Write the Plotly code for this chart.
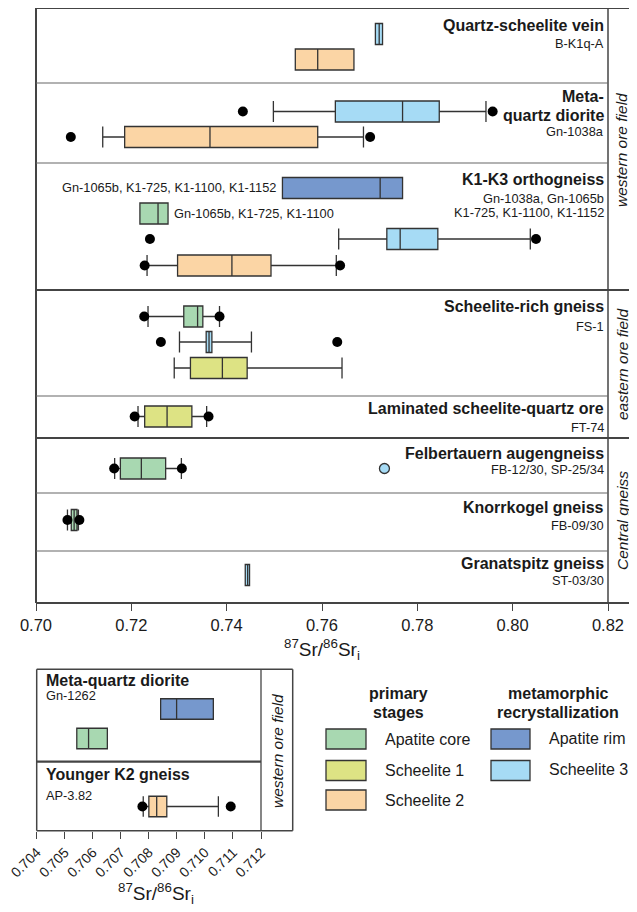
import plotly.graph_objects as go

# page body has an 8px margin: the figure is sized to the remaining viewport
OFF = 8
W, H = 637 - OFF, 912 - OFF
FONT = "Liberation Sans, Arial, sans-serif"
TXT = "#1a1a1a"
LINE = "#333333"

COLORS = {
    "Apatite core": "#a8d8b1",
    "Scheelite 1": "#dde384",
    "Scheelite 2": "#fbd5a5",
    "Apatite rim": "#7698cd",
    "Scheelite 3": "#a6dbf5",
}

# ---------------- main panel data (87Sr/86Sr_i) ----------------
box_series = ["Scheelite 3", "Scheelite 2",
              "Scheelite 3", "Scheelite 2",
              "Apatite rim", "Apatite core", "Scheelite 3", "Scheelite 2",
              "Apatite core", "Scheelite 3", "Scheelite 1",
              "Scheelite 1",
              "Apatite core",
              "Apatite core",
              "Scheelite 3"]
box_q1 = [0.7712, 0.7544, 0.7628, 0.7186, 0.7517, 0.7218, 0.7736, 0.7297,
          0.7310, 0.7357, 0.7324, 0.7228, 0.7177, 0.7074, 0.7439]
box_med = [0.7720, 0.7591, 0.7769, 0.7365, 0.7722, 0.7256, 0.7764, 0.7411,
           0.7339, 0.7363, 0.7391, 0.7275, 0.7221, 0.7080, 0.7444]
box_q3 = [0.7727, 0.7667, 0.7846, 0.7591, 0.7769, 0.7277, 0.7843, 0.7493,
          0.7350, 0.7369, 0.7443, 0.7327, 0.7272, 0.7086, 0.7448]
box_lo = [0.7712, 0.7544, 0.7498, 0.7140, 0.7517, 0.7218, 0.7635, 0.7233,
          0.7235, 0.7301, 0.7290, 0.7214, 0.7165, 0.7066, 0.7439]
box_hi = [0.7727, 0.7667, 0.7944, 0.7687, 0.7769, 0.7277, 0.8037, 0.7630,
          0.7385, 0.7452, 0.7642, 0.7358, 0.7305, 0.7089, 0.7448]
box_outliers = [[], [], [0.7434, 0.7958], [0.7073, 0.7701], [], [],
                [0.7239, 0.8049], [0.7228, 0.7638], [0.7227, 0.7385],
                [0.7262, 0.7632], [], [0.7207, 0.7362], [0.7164, 0.7306],
                [0.7066, 0.7091], []]
# row slots (layout positions, pixel rows of the main panel)
box_slot = [34, 59.5, 111.5, 137, 188, 213.5, 239, 265.5,
            316.5, 342, 368, 416.5, 468.5, 520, 575]

single_series = ["Scheelite 3"]
single_value = [0.7731]
single_slot = [468.5]

# ---------------- inset data ----------------
in_series = ["Apatite rim", "Apatite core", "Scheelite 2"]
in_q1 = [0.70842, 0.70543, 0.70800]
in_med = [0.70899, 0.70585, 0.70828]
in_q3 = [0.71030, 0.70652, 0.70864]
in_lo = [0.70842, 0.70543, 0.70780]
in_hi = [0.71030, 0.70652, 0.71048]
in_outliers = [[], [], [0.70777, 0.71092]]
in_slot = [709, 738.5, 806.5]

main_ticks = [0.70, 0.72, 0.74, 0.76, 0.78, 0.80, 0.82]
inset_ticks = [0.704, 0.705, 0.706, 0.707, 0.708, 0.709, 0.710, 0.711, 0.712]


def px(x):
    return (x - OFF) / W


def py(y):
    return 1 - (y - OFF) / H


fig = go.Figure()


def add_boxes(series, q1, med, q3, lo, hi, outl, slots, xa, ya, bw):
    for s, a, m, b, l, h, o, yv in zip(series, q1, med, q3, lo, hi, outl, slots):
        fig.add_trace(go.Box(
            orientation="h", y=[yv], q1=[a], median=[m], q3=[b],
            lowerfence=[l], upperfence=[h], width=bw, whiskerwidth=1,
            fillcolor=COLORS[s], line=dict(color=LINE, width=1.3),
            boxpoints=False, showlegend=False, xaxis=xa, yaxis=ya,
            hoverinfo="skip"))
        if o:
            fig.add_trace(go.Scatter(
                x=o, y=[yv] * len(o), mode="markers",
                marker=dict(color="black", size=10), showlegend=False,
                xaxis=xa, yaxis=ya, hoverinfo="skip"))


add_boxes(box_series, box_q1, box_med, box_q3, box_lo, box_hi, box_outliers,
          box_slot, "x", "y", 21)
for s, v, yv in zip(single_series, single_value, single_slot):
    fig.add_trace(go.Scatter(
        x=[v], y=[yv], mode="markers",
        marker=dict(color=COLORS[s], size=10, line=dict(color=LINE, width=1.3)),
        showlegend=False, hoverinfo="skip"))
add_boxes(in_series, in_q1, in_med, in_q3, in_lo, in_hi, in_outliers,
          in_slot, "x2", "y2", 20.5)

# ---------------- frame lines ----------------
shapes = []


def hline(y, x0, x1, w=1.2, c="#555555"):
    shapes.append(dict(type="line", xref="paper", yref="paper",
                       x0=px(x0), x1=px(x1), y0=py(y), y1=py(y),
                       line=dict(color=c, width=w)))


def vline(x, y0, y1, w=1.2, c="#555555"):
    shapes.append(dict(type="line", xref="paper", yref="paper",
                       x0=px(x), x1=px(x), y0=py(y0), y1=py(y1),
                       line=dict(color=c, width=w)))


# main panel frame
hline(8, 36, 637, 2, "#444")
hline(603, 36, 637, 2, "#444")
vline(36, 8, 603, 2, "#444")
vline(608, 8, 603, 1.5, "#444")
for yy in [83, 163, 396, 493, 551]:
    hline(yy, 36, 608, 1.2, "#666")
for yy in [290, 438]:
    hline(yy, 36, 637, 2.2, "#444")

# inset frame
hline(669.3, 36.7, 292.7, 1.5, "#444")
hline(830.7, 36.7, 292.7, 1.5, "#444")
vline(36.7, 669.3, 830.7, 1.5, "#444")
vline(261, 669.3, 830.7, 1.3, "#444")
vline(292.7, 669.3, 830.7, 1.5, "#444")
hline(761.7, 36.7, 261, 2.2, "#444")

# legend swatches
leg_left = ["Apatite core", "Scheelite 1", "Scheelite 2"]
leg_right = ["Apatite rim", "Scheelite 3"]
leg_rows = [739, 770.5, 800]
for name, yc in zip(leg_left, leg_rows):
    shapes.append(dict(type="rect", xref="paper", yref="paper",
                       x0=px(326), x1=px(366), y0=py(yc - 10), y1=py(yc + 10),
                       fillcolor=COLORS[name], line=dict(color=LINE, width=1.3)))
for name, yc in zip(leg_right, leg_rows):
    shapes.append(dict(type="rect", xref="paper", yref="paper",
                       x0=px(491), x1=px(530), y0=py(yc - 10), y1=py(yc + 10),
                       fillcolor=COLORS[name], line=dict(color=LINE, width=1.3)))

# ---------------- text ----------------
anns = []


def ann(x, y, text, size, xanchor="right", bold=False, italic=False, angle=0):
    t = text
    if bold:
        t = "<b>" + t + "</b>"
    if italic:
        t = "<i>" + t + "</i>"
    anns.append(dict(x=px(x), y=py(y), xref="paper", yref="paper", text=t,
                     showarrow=False, xanchor=xanchor, yanchor="middle",
                     textangle=angle, font=dict(size=size, color=TXT, family=FONT)))


RX = 606
TS, SS = 16, 12.8
ann(RX, 25, "Quartz-scheelite vein", TS, bold=True)
ann(RX, 44, "B-K1q-A", SS)
ann(RX, 96, "Meta-", TS, bold=True)
ann(RX, 115, "quartz diorite", TS, bold=True)
ann(RX, 132, "Gn-1038a", SS)
ann(RX, 180, "K1-K3 orthogneiss", TS, bold=True)
ann(RX, 198, "Gn-1038a, Gn-1065b", SS)
ann(RX, 212, "K1-725, K1-1100, K1-1152", SS)
ann(278, 188, "Gn-1065b, K1-725, K1-1100, K1-1152", SS)
ann(172, 214, "Gn-1065b, K1-725, K1-1100", SS, xanchor="left")
ann(RX, 306, "Scheelite-rich gneiss", TS, bold=True)
ann(RX, 326, "FS-1", SS)
ann(RX, 408, "Laminated scheelite-quartz ore", TS, bold=True)
ann(RX, 427, "FT-74", SS)
ann(RX, 453, "Felbertauern augengneiss", TS, bold=True)
ann(RX, 470, "FB-12/30, SP-25/34", SS)
ann(RX, 507, "Knorrkogel gneiss", TS, bold=True)
ann(RX, 525, "FB-09/30", SS)
ann(RX, 563, "Granatspitz gneiss", TS, bold=True)
ann(RX, 580, "ST-03/30", SS)

ann(622, 150, "western ore field", 15.5, xanchor="center", italic=True, angle=-90)
ann(622, 364, "eastern ore field", 15.5, xanchor="center", italic=True, angle=-90)
ann(622, 521, "Central gneiss", 15.5, xanchor="center", italic=True, angle=-90)

ann(44, 680, "Meta-quartz diorite", 16, xanchor="left", bold=True)
ann(44, 695, "Gn-1262", SS, xanchor="left")
ann(44, 774, "Younger K2 gneiss", 16, xanchor="left", bold=True)
ann(44, 795, "AP-3.82", SS, xanchor="left")
ann(277, 751, "western ore field", 15.5, xanchor="center", italic=True, angle=-90)

# axis titles
title_txt = "<sup>87</sup>Sr/<sup>86</sup>Sr<sub>i</sub>"
ann(322, 649, title_txt, 19, xanchor="center")
ann(156, 893, title_txt, 19, xanchor="center")

# legend text
ann(398, 693, "primary", 16, xanchor="center", bold=True)
ann(398, 712, "stages", 16, xanchor="center", bold=True)
ann(558, 693, "metamorphic", 16, xanchor="center", bold=True)
ann(558, 712, "recrystallization", 16, xanchor="center", bold=True)
for name, yc in zip(leg_left, leg_rows):
    ann(383, yc, name, 16, xanchor="left")
for name, yc in zip(leg_right, leg_rows):
    ann(547, yc - 1, name, 16, xanchor="left")

fig.update_layout(
    width=W, height=H, margin=dict(l=0, r=0, t=0, b=0, autoexpand=False),
    paper_bgcolor="white", plot_bgcolor="rgba(0,0,0,0)",
    boxmode="overlay", showlegend=False,
    font=dict(family=FONT, color=TXT),
    shapes=shapes, annotations=anns,
    xaxis=dict(domain=[px(36), px(608)], range=[0.70, 0.82],
               tickvals=main_ticks, ticktext=[f"{t:.2f}" for t in main_ticks],
               ticks="outside", ticklen=7, tickcolor="#444", tickwidth=1.2,
               showgrid=False, zeroline=False, showline=False, automargin=False,
               ticklabeloverflow="allow",
               tickfont=dict(size=16.5, color=TXT), anchor="y"),
    yaxis=dict(domain=[py(603), py(8)], range=[603, 8], visible=False,
               automargin=False, anchor="x"),
    xaxis2=dict(domain=[px(36.7), px(261)], range=[0.704, 0.712],
                tickvals=inset_ticks, ticktext=[f"{t:.3f}" for t in inset_ticks],
                ticks="outside", ticklen=7, tickcolor="#444", tickwidth=1.2,
                tickangle=-45, showgrid=False, zeroline=False, showline=False,
                automargin=False, ticklabeloverflow="allow",
                tickfont=dict(size=14, color=TXT), anchor="y2"),
    yaxis2=dict(domain=[py(830.7), py(669.3)], range=[830.7, 669.3],
                visible=False, automargin=False, anchor="x2"),
)

fig.write_html("out.html")
